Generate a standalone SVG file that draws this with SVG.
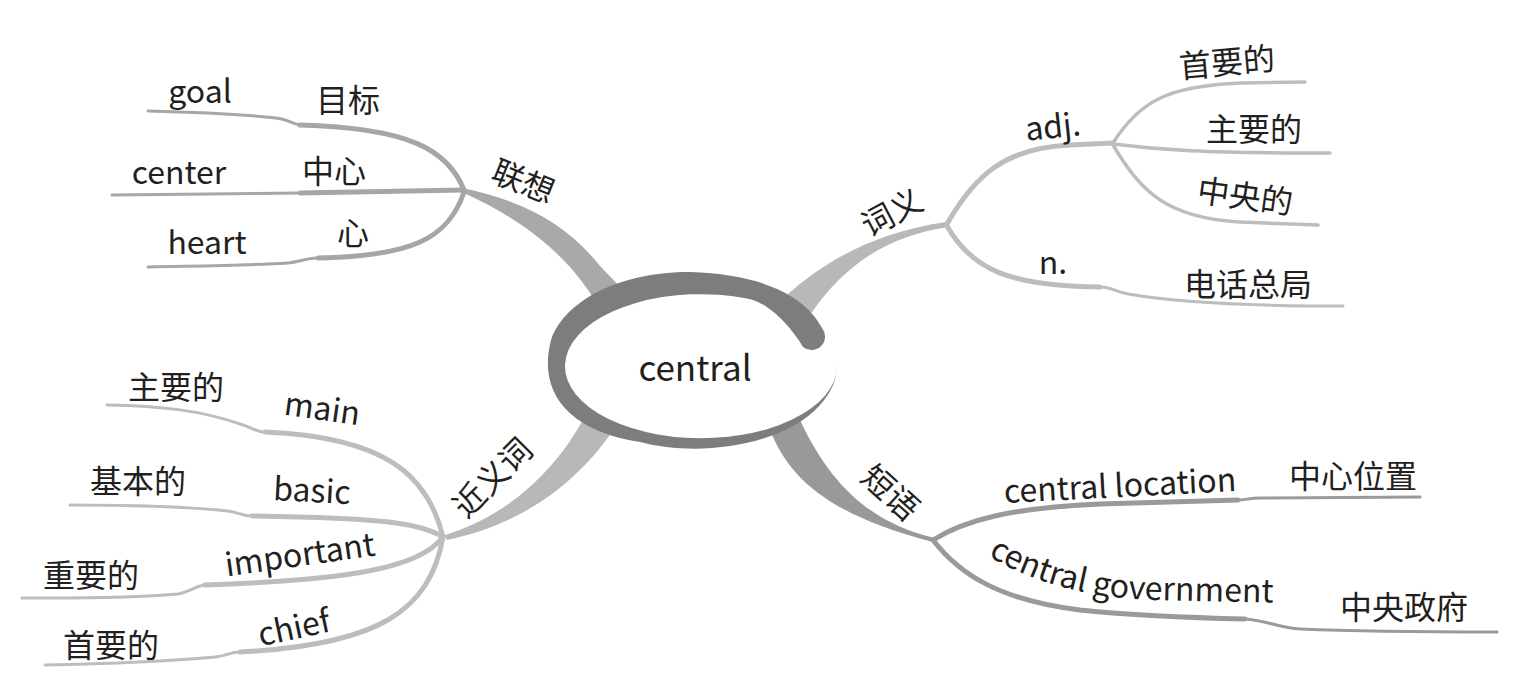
<svg xmlns="http://www.w3.org/2000/svg" width="1538" height="687" viewBox="0 0 1538 687">
<style>
.t{font-family:'Noto Sans CJK SC','Noto Sans',sans-serif;fill:#231f20;font-size:32px}
.c{text-anchor:middle}
.in{fill:none;stroke-width:5;stroke-linecap:round}
.out{fill:none;stroke-width:3;stroke-linecap:round}
.sub{fill:none;stroke-width:3.5;stroke-linecap:round}
.g1{stroke:#a6a6a6}
.g2{stroke:#bdbdbd}
.g3{stroke:#9a9a9a}
</style>
<rect width="1538" height="687" fill="#ffffff"/>
<g id="connectors">
  <!-- main branches -->
  <path d="M 462,188 C 520,200 565,222 600,266 L 625,292 L 596,302 C 575,268 540,228 466,194 Z" fill="#a9a9a9"/>
  <path d="M 786,296 C 820,265 870,233 946,222 L 948,227 C 890,236 845,262 808,318 Z" fill="#b8b8b8"/>
  <path d="M 583,420 C 555,470 510,515 445,535 L 447,540 C 520,525 575,485 612,432 Z" fill="#b8b8b8"/>
  <path d="M 770,430 C 790,480 830,515 933,542 L 935,538 C 880,525 835,495 800,420 Z" fill="#999999"/>
  <!-- 联想 -->
  <path class="in g1" d="M 464,190 C 448,150 410,128 300,125"/>
  <path class="out g1" d="M 300,125 C 292,124 287,119 276,118 C 230,113 190,112 148,111"/>
  <path class="in g1" d="M 464,190 L 300,193"/>
  <path class="out g1" d="M 300,193 L 112,195"/>
  <path class="in g1" d="M 464,192 C 448,240 410,256 318,258"/>
  <path class="out g1" d="M 318,258 C 305,258 300,262 288,263 C 240,266 190,266 148,267"/>
  <!-- 词义 -->
  <path class="in g2" d="M 947,224 C 975,175 1005,148 1070,145 L 1113,143"/>
  <path class="in g2" d="M 947,226 C 972,270 1010,286 1100,287"/>
  <path class="out g2" d="M 1100,287 C 1112,287 1115,292 1128,294 C 1180,303 1250,306 1343,306"/>
  <path class="sub g2" d="M 1113,143 C 1140,100 1170,86 1240,83 L 1305,82"/>
  <path class="sub g2" d="M 1113,144 C 1160,150 1200,153 1330,153"/>
  <path class="sub g2" d="M 1113,145 C 1140,190 1165,218 1240,222 L 1318,225"/>
  <!-- 近义词 -->
  <path class="in g2" d="M 443,537 C 428,475 385,437 265,432"/>
  <path class="out g2" d="M 265,432 C 255,432 250,426 240,424 C 200,410 160,406 107,405"/>
  <path class="in g2" d="M 443,537 C 420,523 385,518 252,516"/>
  <path class="out g2" d="M 252,516 C 242,516 238,512 228,511 C 180,506 120,505 70,505"/>
  <path class="in g2" d="M 443,537 C 420,568 350,580 205,585"/>
  <path class="out g2" d="M 205,585 C 195,586 190,592 178,594 C 130,598 80,598 22,598"/>
  <path class="in g2" d="M 443,537 C 430,610 380,645 240,652"/>
  <path class="out g2" d="M 240,652 C 230,652 226,656 215,657 C 160,662 100,664 45,665"/>
  <!-- 短语 -->
  <path class="in g3" d="M 933,540 C 965,520 1010,508 1100,504 L 1238,500"/>
  <path class="out g3" d="M 1238,500 C 1245,500 1250,498 1260,498 L 1420,497"/>
  <path class="in g3" d="M 933,540 C 960,575 1000,600 1080,610 C 1140,616 1200,618 1245,619"/>
  <path class="out g3" d="M 1245,619 C 1265,620 1280,628 1300,629 C 1370,632 1430,632 1497,632"/>
</g>
<g id="node-central">
  <ellipse cx="701" cy="366" rx="136" ry="72" fill="#ffffff"/>
  <path d="M 822,328 C 805,295 760,274 690,272 C 620,272 565,300 551,340 C 538,390 565,430 640,442 C 700,458 785,445 820,405 C 832,392 837,378 837,366 A 136,72 0 1 1 747,298.4 C 772,303 795,333 803,347 A 13.5,13.5 0 0 0 822,328 Z" fill="#7d7d7d"/>
  <text class="t c" x="695" y="381" style="font-size:35px">central</text>
</g>
<g id="node-lianxiang"><text class="t c" transform="translate(523,182) rotate(22)" y="11">联想</text></g>
<g id="node-goal"><text class="t c" x="200" y="103">goal</text></g>
<g id="node-mubiao"><text class="t c" x="348" y="112">目标</text></g>
<g id="node-center"><text class="t c" x="179" y="184">center</text></g>
<g id="node-zhongxin"><text class="t c" x="334" y="183">中心</text></g>
<g id="node-heart"><text class="t c" x="207" y="254">heart</text></g>
<g id="node-xin"><text class="t c" x="353" y="245">心</text></g>
<g id="node-ciyi"><text class="t c" transform="translate(892,213) rotate(-28)" y="11">词义</text></g>
<g id="node-adj"><text class="t c" transform="translate(1053,128) rotate(-6)" y="10">adj.</text></g>
<g id="node-n"><text class="t c" x="1053" y="274">n.</text></g>
<g id="node-shouyao1"><text class="t c" transform="translate(1227,63) rotate(-5)" y="11">首要的</text></g>
<g id="node-zhuyao1"><text class="t c" x="1254" y="141">主要的</text></g>
<g id="node-zhongyang"><text class="t c" transform="translate(1245,197) rotate(8)" y="11">中央的</text></g>
<g id="node-dianhua"><text class="t c" x="1248" y="296">电话总局</text></g>
<g id="node-jinyici"><text class="t c" transform="translate(493,478) rotate(-45)" y="11">近义词</text></g>
<g id="node-zhuyao2"><text class="t c" x="176" y="399">主要的</text></g>
<g id="node-main"><text class="t c" transform="translate(322,410) rotate(8)" y="10">main</text></g>
<g id="node-jiben"><text class="t c" x="138" y="493">基本的</text></g>
<g id="node-basic"><text class="t c" transform="translate(312,491) rotate(3)" y="11">basic</text></g>
<g id="node-zhongyao"><text class="t c" x="91" y="587">重要的</text></g>
<g id="node-important"><text class="t c" transform="translate(300,556) rotate(-8)" y="10">important</text></g>
<g id="node-shouyao2"><text class="t c" x="111" y="657">首要的</text></g>
<g id="node-chief"><text class="t c" transform="translate(294,628) rotate(-12)" y="11">chief</text></g>
<g id="node-duanyu"><text class="t c" transform="translate(890,493) rotate(42)" y="11">短语</text></g>
<g id="node-location"><text class="t c" transform="translate(1120,486) rotate(-3)" y="11">central location</text></g>
<g id="node-zhongxinweizhi"><text class="t c" x="1353" y="488">中心位置</text></g>
<g id="node-government">
  <defs><path id="govpath" d="M 988,556 C 1030,580 1080,597 1150,600 L 1290,603"/></defs>
  <text class="t"><textPath href="#govpath">central government</textPath></text>
</g>
<g id="node-zhongyangzhengfu"><text class="t c" x="1404" y="619">中央政府</text></g>
</svg>
